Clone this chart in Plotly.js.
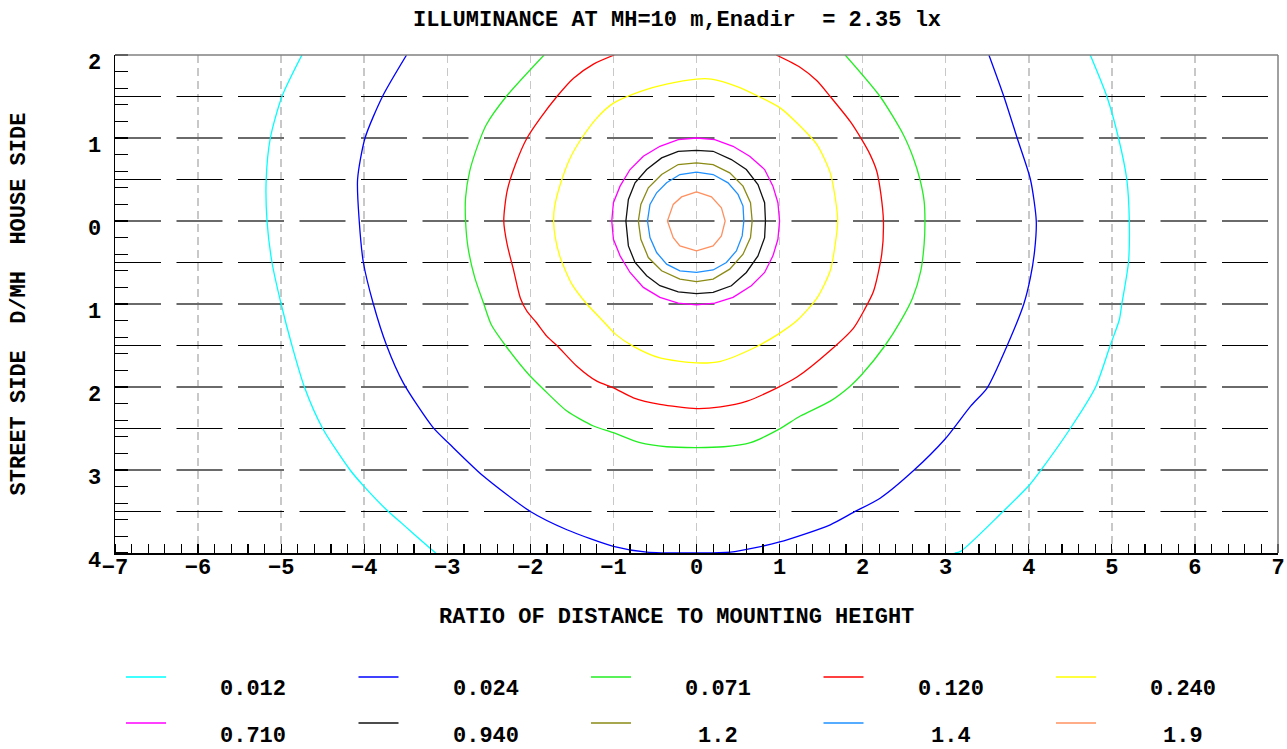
<!DOCTYPE html>
<html>
<head>
<meta charset="utf-8">
<script src="https://cdn.plot.ly/plotly-3.0.1.min.js"></script>
<style>html,body{margin:0;padding:0;background:#fff;}#chart{width:1287px;height:749px;}</style>
</head>
<body>
<div id="chart"></div>
<script>
// ---- data ----
const levels = ['0.012','0.024','0.071','0.120','0.240','0.710','0.940','1.2','1.4','1.9'];
const levelColors = ['#00ffff','#0000ff','#22ee22','#ff0000','#ffff00','#ff00ff','#111111','#8a8a14','#1e90ff','#ff9060'];

const cyanLeftX = [-4.75,-4.99,-5.13,-5.18,-5.17,-5.11,-5.00,-4.87,-4.72,-4.50,-4.17,-4.00,-3.71,-3.55,-3.20,-3.14];
const cyanLeftY = [2.0,1.5,1.0,0.5,0.0,-0.5,-1.0,-1.5,-2.0,-2.5,-3.0,-3.2,-3.5,-3.64,-3.95,-4.0];
const cyanRightX = [3.11,3.18,3.68,4.00,4.14,4.50,4.80,4.98,5.09,5.12,5.20,5.21,5.18,5.08,4.94,4.74];
const cyanRightY = [-4.0,-3.98,-3.51,-3.19,-3.01,-2.50,-2.01,-1.50,-1.19,-1.0,-0.5,0.0,0.5,1.0,1.5,2.0];

const blueX = [-3.49,-3.78,-3.99,-4.08,-4.06,-4.01,-3.89,-3.73,-3.53,-3.17,-2.97,-2.57,-2.00,-1.56,-1.00,-0.60,0.00,0.41,0.99,1.61,1.89,2.21,2.61,2.99,3.30,3.50,3.74,3.94,4.02,4.07,4.09,4.02,3.86,3.70,3.52];
const blueY = [2.0,1.5,1.0,0.5,0.0,-0.5,-1.0,-1.5,-1.95,-2.49,-2.69,-3.07,-3.50,-3.72,-3.92,-3.99,-4.0,-3.99,-3.87,-3.66,-3.51,-3.34,-3.01,-2.63,-2.23,-2.01,-1.50,-1.0,-0.68,-0.36,0.0,0.5,1.0,1.5,2.0];

const greenX = [-1.835,-2.29,-2.53,-2.63,-2.73,-2.78,-2.78,-2.75,-2.67,-2.56,-2.47,-2.30,-2.02,-1.84,-1.56,-1.24,-1.00,-0.68,-0.36,0.00,0.33,0.65,0.99,1.25,1.61,1.85,1.99,2.27,2.46,2.60,2.70,2.74,2.75,2.74,2.69,2.61,2.49,2.21,1.79];
const greenY = [2.0,1.50,1.16,0.92,0.60,0.28,0.0,-0.32,-0.68,-1.0,-1.25,-1.50,-1.85,-2.03,-2.29,-2.47,-2.55,-2.67,-2.72,-2.73,-2.72,-2.67,-2.51,-2.35,-2.17,-1.99,-1.85,-1.50,-1.20,-0.93,-0.60,-0.28,0.0,0.24,0.50,0.76,1.04,1.50,2.0];

const redX = [-0.99,-1.24,-1.48,-1.68,-1.88,-2.04,-2.18,-2.28,-2.32,-2.28,-2.20,-2.12,-2.04,-1.93,-1.80,-1.68,-1.44,-1.20,-1.00,-0.76,-0.44,0.00,0.29,0.61,0.97,1.21,1.61,1.89,2.01,2.13,2.23,2.25,2.22,2.17,2.09,1.99,1.85,1.61,1.45,1.25,0.96];
const redY = [2.0,1.89,1.72,1.50,1.24,1.0,0.68,0.36,0.0,-0.28,-0.60,-0.93,-1.09,-1.22,-1.39,-1.50,-1.75,-1.93,-2.01,-2.13,-2.21,-2.26,-2.24,-2.17,-2.01,-1.88,-1.56,-1.29,-1.09,-0.85,-0.40,0.0,0.32,0.60,0.80,0.98,1.20,1.50,1.69,1.85,2.0];

const yellowX = [0.00,-0.36,-0.68,-1.00,-1.20,-1.38,-1.52,-1.64,-1.71,-1.72,-1.70,-1.64,-1.50,-1.32,-1.12,-0.98,-0.76,-0.44,0.00,0.29,0.69,0.99,1.21,1.45,1.61,1.67,1.70,1.67,1.61,1.45,1.21,1.01,0.75,0.49,0.18,0.00];
const yellowY = [1.71,1.65,1.56,1.42,1.24,1.0,0.76,0.44,0.16,0.0,-0.20,-0.44,-0.76,-1.0,-1.21,-1.36,-1.51,-1.65,-1.71,-1.69,-1.53,-1.36,-1.20,-0.93,-0.60,-0.28,0.0,0.28,0.58,0.92,1.18,1.36,1.50,1.62,1.71,1.71];

const magentaX = [0.00,0.22,0.44,0.64,0.82,0.92,0.98,1.00,0.98,0.92,0.82,0.66,0.44,0.22,0.00,-0.22,-0.44,-0.64,-0.80,-0.92,-1.00,-1.02,-1.00,-0.92,-0.80,-0.64,-0.44,-0.22,0.00];
const magentaY = [1.00,0.98,0.90,0.78,0.62,0.42,0.22,0.00,-0.22,-0.42,-0.62,-0.78,-0.92,-0.99,-1.01,-0.99,-0.92,-0.80,-0.62,-0.42,-0.22,0.00,0.22,0.42,0.62,0.78,0.90,0.98,1.00];

const blackX = [0.00,0.20,0.42,0.60,0.74,0.82,0.83,0.82,0.74,0.60,0.42,0.20,0.00,-0.22,-0.44,-0.60,-0.74,-0.82,-0.85,-0.82,-0.74,-0.60,-0.42,-0.22,0.00];
const blackY = [0.85,0.84,0.74,0.62,0.44,0.22,0.00,-0.20,-0.42,-0.62,-0.78,-0.86,-0.875,-0.855,-0.78,-0.66,-0.50,-0.30,0.00,0.26,0.46,0.62,0.76,0.84,0.85];

const oliveX = [0.00,0.20,0.40,0.56,0.65,0.67,0.65,0.56,0.40,0.20,0.00,-0.20,-0.42,-0.58,-0.67,-0.70,-0.67,-0.58,-0.42,-0.22,0.00];
const oliveY = [0.70,0.68,0.58,0.42,0.22,0.00,-0.20,-0.40,-0.58,-0.70,-0.73,-0.70,-0.60,-0.44,-0.22,0.00,0.20,0.40,0.56,0.68,0.70];

const dodgerX = [0.00,0.20,0.38,0.50,0.56,0.57,0.55,0.48,0.36,0.20,0.00,-0.20,-0.36,-0.48,-0.56,-0.59,-0.56,-0.48,-0.36,-0.20,0.00];
const dodgerY = [0.59,0.56,0.46,0.32,0.18,0.00,-0.18,-0.36,-0.50,-0.59,-0.62,-0.60,-0.52,-0.38,-0.20,0.00,0.20,0.34,0.46,0.56,0.59];

const coralX = [0.00,0.18,0.30,0.345,0.30,0.20,0.00,-0.20,-0.28,-0.35,-0.28,-0.18,0.00];
const coralY = [0.35,0.29,0.16,0.00,-0.18,-0.30,-0.36,-0.30,-0.20,0.00,0.20,0.29,0.35];

const xTickVals = [-7,-6,-5,-4,-3,-2,-1,0,1,2,3,4,5,6,7];
const xTickText = ['\u22127','\u22126','\u22125','\u22124','\u22123','\u22122','\u22121','0','1','2','3','4','5','6','7'];
const yTickVals = [2,1,0,-1,-2,-3,-4];
const yTickText = ['2','1','0','1','2','3','4'];
const hLines = [1.5,1,0.5,0,-0.5,-1,-1.5,-2,-2.5,-3,-3.5];

// ---- build ----
const FONT = {family:'"Liberation Mono", "Courier New", monospace', size:22, color:'#000', weight:'bold'};
const L=115, R=9, T=55, B=196, WW=1287, HH=749;
const PW = WW-L-R, PH = HH-T-B;
const px2x = p => (p-L)/PW;
const px2y = p => (HH-B-p)/PH;

const series = [
  [cyanLeftX, cyanLeftY, 0, true], [cyanRightX, cyanRightY, 0, true],
  [blueX, blueY, 1, true], [greenX, greenY, 2, true], [redX, redY, 3, true], [yellowX, yellowY, 4, true],
  [magentaX, magentaY, 5, false], [blackX, blackY, 6, false], [oliveX, oliveY, 7, false],
  [dodgerX, dodgerY, 8, false], [coralX, coralY, 9, false]
];
const traces = series.map(s => ({
  type:'scatter', mode:'lines', x:s[0], y:s[1], name:levels[s[2]],
  line:s[3] ? {color:levelColors[s[2]], width:1.3, shape:'spline', smoothing:0.7}
            : {color:levelColors[s[2]], width:1.3},
  showlegend:false, hoverinfo:'skip'
}));

const shapes = hLines.map(v => ({
  type:'line', xref:'x', yref:'y', x0:-7, x1:7, y0:v, y1:v, layer:'between',
  line:{color: Number.isInteger(v) ? '#6a6a6a' : '#000000', width: Number.isInteger(v) ? 2 : 1.2, dash:'46px,15.5px'}
}));
shapes.push({type:'line', xref:'paper', yref:'paper', x0:0, x1:1, y0:1, y1:1, line:{color:'#808080', width:1.5}});
shapes.push({type:'line', xref:'paper', yref:'paper', x0:1, x1:1, y0:0, y1:1, line:{color:'#808080', width:1.5}});

const annotations = [];
levels.forEach((lv, i) => {
  const col = i % 5, row = Math.floor(i / 5);
  const x0 = 126 + 232.5*col;
  const ly = 677 + 46*row;
  const ty = 689.5 + 46.5*row;
  shapes.push({type:'line', xref:'paper', yref:'paper', x0:px2x(x0), x1:px2x(x0+40), y0:px2y(ly), y1:px2y(ly),
    line:{color:levelColors[i], width:1.3}});
  annotations.push({xref:'paper', yref:'paper', x:px2x(x0+127), y:px2y(ty), xanchor:'center', yanchor:'middle',
    text:lv, showarrow:false, font:FONT});
});

const layout = {
  width:WW, height:HH, margin:{l:L, r:R, t:T, b:B, pad:0},
  paper_bgcolor:'#fff', plot_bgcolor:'#fff', showlegend:false,
  font:FONT,
  title:{text:'ILLUMINANCE AT MH=10 m,Enadir\u00a0\u00a0= 2.35 lx', font:FONT, xref:'paper', x:(677-L)/PW, xanchor:'center',
         yref:'container', y:1-18/HH, yanchor:'middle'},
  xaxis:{range:[-7,7], tickmode:'array', tickvals:xTickVals, ticktext:xTickText, ticks:'', ticklen:0, tickfont:FONT,
    showgrid:true, gridcolor:'#c8c8c8', gridwidth:1.5, griddash:'8px,5px', zeroline:false,
    showline:true, linecolor:'#000', linewidth:1.5, ticklabelstandoff:-7,
    minor:{tickmode:'linear', tick0:0, dtick:0.2, ticks:'inside', ticklen:9, tickcolor:'#000', tickwidth:1.2, showgrid:false},
    title:{text:'RATIO OF DISTANCE TO MOUNTING HEIGHT\u00a0\u00a0\u00a0\u200b', font:FONT, standoff:27}, automargin:'height'},
  yaxis:{range:[-4,2], tickmode:'array', tickvals:yTickVals, ticktext:yTickText, ticks:'', ticklen:0, tickfont:FONT,
    showgrid:false, zeroline:false, showline:true, linecolor:'#000', linewidth:1.5,
    ticklabelshift:6, ticklabelstandoff:8,
    minor:{tickmode:'linear', tick0:0, dtick:0.2, ticks:'inside', ticklen:13, tickcolor:'#000', tickwidth:1.2, showgrid:false},
    title:{text:'STREET SIDE\u00a0\u00a0D/MH\u00a0\u00a0HOUSE SIDE', font:FONT, standoff:56}, automargin:'width'},
  shapes:shapes, annotations:annotations
};

Plotly.newPlot('chart', traces, layout, {displayModeBar:false, staticPlot:true});
</script>
</body>
</html>
